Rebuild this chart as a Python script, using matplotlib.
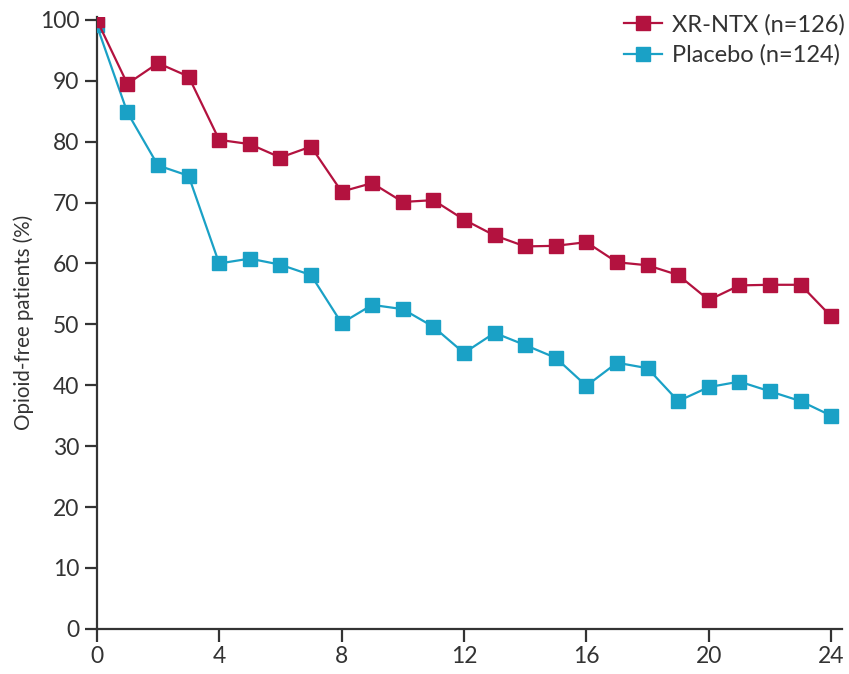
import numpy as np
import matplotlib.pyplot as plt

plt.rcParams['font.family'] = ['Lato', 'DejaVu Sans']

weeks = np.arange(0, 25)
xr_ntx = [100, 89.5, 92.9, 90.7, 80.3, 79.6, 77.4, 79.2, 71.8, 73.2, 70.1, 70.4,
          67.2, 64.6, 62.8, 62.9, 63.5, 60.2, 59.7, 58.1, 54.0, 56.4, 56.5, 56.5, 51.3]
placebo = [99.1, 84.8, 76.1, 74.4, 60.0, 60.8, 59.8, 58.1, 50.2, 53.2, 52.5, 49.6,
           45.3, 48.6, 46.6, 44.5, 39.9, 43.7, 42.8, 37.4, 39.7, 40.6, 39.0, 37.4, 35.0]
labels = ['XR-NTX (n=126)', 'Placebo (n=124)']

red = '#B3123F'
blue = '#1AA1C6'
dark = '#333333'

fig = plt.figure(figsize=(8.49, 6.74), dpi=100)
ax = fig.add_axes([0.114, 0.067, 0.878, 0.908])

ax.plot(weeks, placebo, color=blue, lw=1.6, marker='s', ms=9.5, label=labels[1], zorder=3)
ax.plot(weeks, xr_ntx, color=red, lw=1.6, marker='s', ms=9.5, label=labels[0], zorder=4)

ax.set_xlim(0, 24.36)
ax.set_ylim(0, 100.5)
ax.set_xticks(np.arange(0, 25, 4))
ax.set_yticks(np.arange(0, 101, 10))

for s in ['top', 'right']:
    ax.spines[s].set_visible(False)
for s in ['left', 'bottom']:
    ax.spines[s].set_color(dark)
    ax.spines[s].set_linewidth(1.6)
ax.tick_params(colors=dark, labelsize=16.5, width=1.6, length=9, pad=3.5)
ax.set_ylabel('Opioid-free patients (%)', fontsize=14.8, color=dark, labelpad=4)

handles, labs = ax.get_legend_handles_labels()
leg = ax.legend(handles[::-1], labs[::-1], loc='upper right', bbox_to_anchor=(1.004, 1.005),
                frameon=False, fontsize=17, handlelength=1.6, handletextpad=0.45,
                labelspacing=0.38, borderaxespad=0.0, borderpad=0.0)
for t in leg.get_texts():
    t.set_color(dark)

fig.savefig('out.png', dpi=100)
